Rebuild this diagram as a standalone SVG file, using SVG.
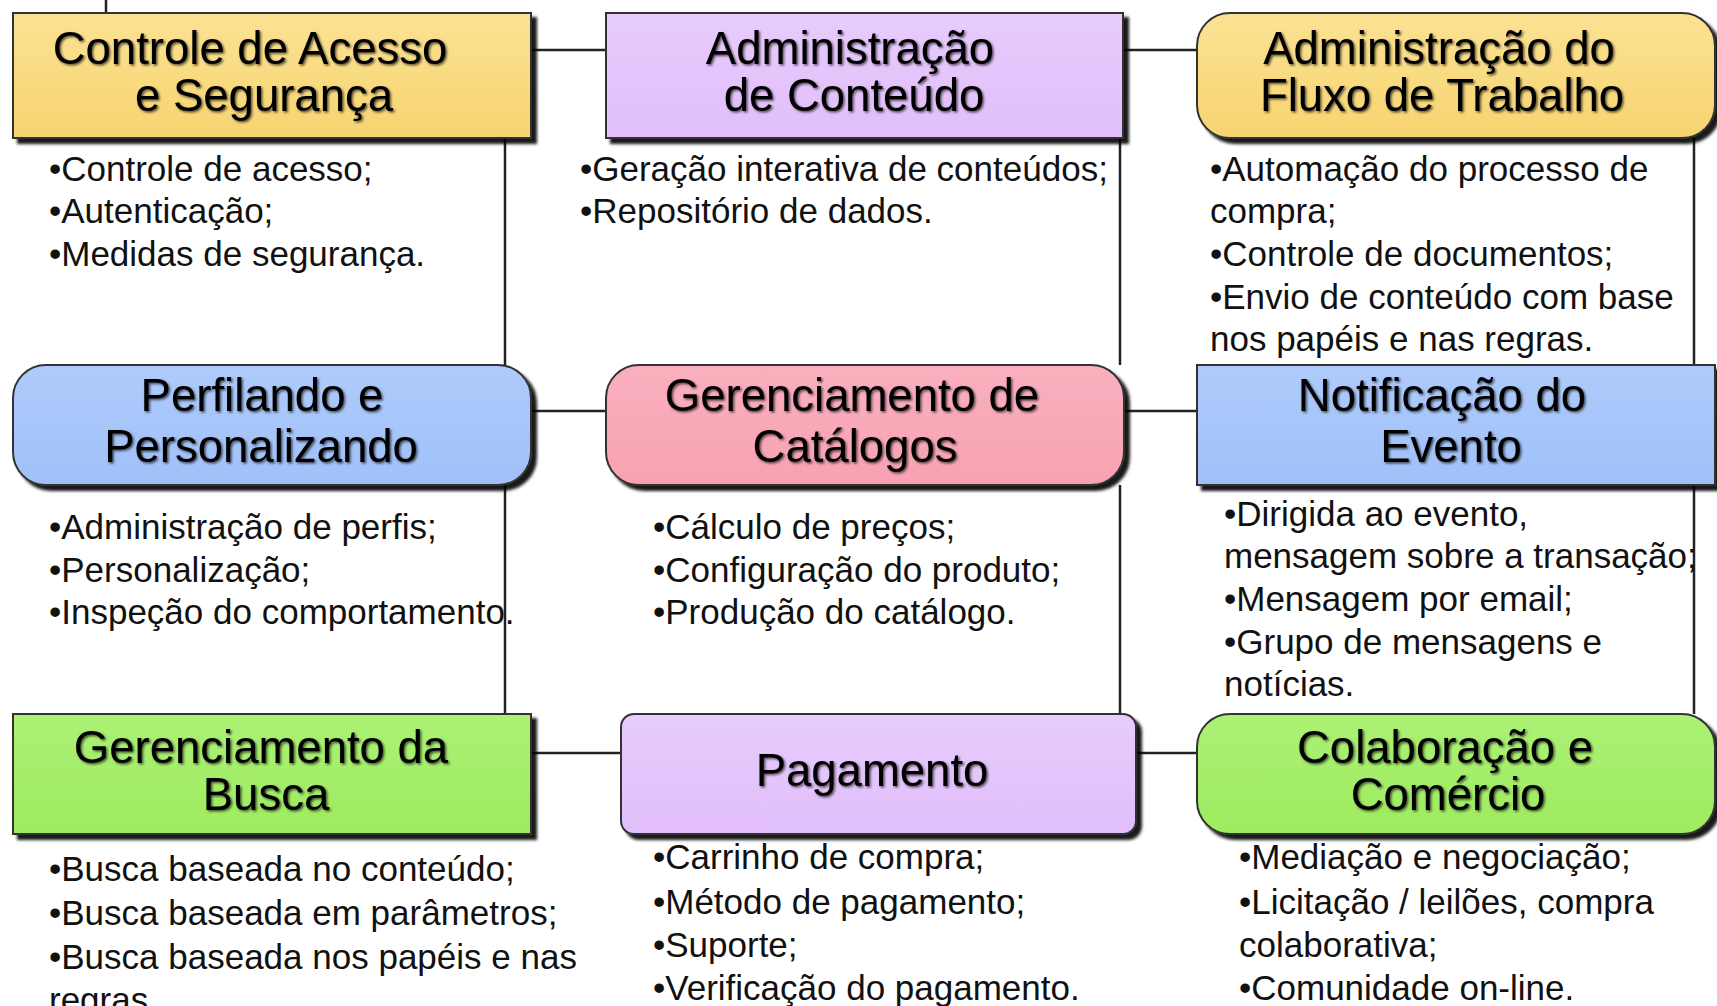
<svg xmlns="http://www.w3.org/2000/svg" width="1717" height="1006" viewBox="0 0 1717 1006">
<style>
.box{stroke:#333;stroke-width:2}
.t{font-family:"Liberation Sans",Arial,sans-serif;font-size:45.5px;fill:#000;text-anchor:middle;filter:url(#ts)}
.b{font-family:"Liberation Sans",Arial,sans-serif;font-size:35px;fill:#111}
.c{stroke:#222;stroke-width:2.5;fill:none}
</style>
<defs>
<linearGradient id="gy" x1="0" y1="0" x2="0" y2="1"><stop offset="0" stop-color="#FBE293"/><stop offset="1" stop-color="#F7D470"/></linearGradient>
<linearGradient id="gp" x1="0" y1="0" x2="0" y2="1"><stop offset="0" stop-color="#E8CCFD"/><stop offset="1" stop-color="#E1BEFA"/></linearGradient>
<linearGradient id="gb" x1="0" y1="0" x2="0" y2="1"><stop offset="0" stop-color="#AECBFB"/><stop offset="1" stop-color="#A0C0F8"/></linearGradient>
<linearGradient id="gk" x1="0" y1="0" x2="0" y2="1"><stop offset="0" stop-color="#FAB0BE"/><stop offset="1" stop-color="#F7A2B2"/></linearGradient>
<linearGradient id="gg" x1="0" y1="0" x2="0" y2="1"><stop offset="0" stop-color="#ACF175"/><stop offset="1" stop-color="#9EEB60"/></linearGradient>
<filter id="sh" x="-5%" y="-10%" width="115%" height="130%"><feDropShadow dx="5" dy="5" stdDeviation="1.5" flood-color="#000" flood-opacity="0.9"/></filter>
<filter id="ts" x="-5%" y="-20%" width="115%" height="150%"><feDropShadow dx="1.5" dy="1.5" stdDeviation="1" flood-color="#000" flood-opacity="0.65"/></filter>
</defs>

<g id="connectors">
<line class="c" x1="106" y1="0" x2="106" y2="13"/>
<line class="c" x1="531" y1="50" x2="606" y2="50"/>
<line class="c" x1="1123" y1="50" x2="1197" y2="50"/>
<line class="c" x1="531" y1="411" x2="606" y2="411"/>
<line class="c" x1="1124" y1="411" x2="1197" y2="411"/>
<line class="c" x1="531" y1="753" x2="621" y2="753"/>
<line class="c" x1="1136" y1="753" x2="1197" y2="753"/>
<line class="c" x1="505" y1="138" x2="505" y2="365"/>
<line class="c" x1="505" y1="485" x2="505" y2="714"/>
<line class="c" x1="1120" y1="138" x2="1120" y2="365"/>
<line class="c" x1="1120" y1="485" x2="1120" y2="714"/>
<line class="c" x1="1694" y1="138" x2="1694" y2="365"/>
<line class="c" x1="1694" y1="485" x2="1694" y2="714"/>
</g>

<g id="n1">
<rect class="box" x="13" y="13" width="518" height="125" fill="url(#gy)" filter="url(#sh)"/>
<text class="t" x="250" y="64">Controle de Acesso</text>
<text class="t" x="264" y="111">e Segurança</text>
<text class="b" x="49" y="181">•Controle de acesso;</text>
<text class="b" x="49" y="223">•Autenticação;</text>
<text class="b" x="49" y="266">•Medidas de segurança.</text>
</g>

<g id="n2">
<rect class="box" x="606" y="13" width="517" height="125" fill="url(#gp)" filter="url(#sh)"/>
<text class="t" x="850" y="64">Administração</text>
<text class="t" x="854" y="111">de Conteúdo</text>
<text class="b" x="580" y="181">•Geração interativa de conteúdos;</text>
<text class="b" x="580" y="223">•Repositório de dados.</text>
</g>

<g id="n3">
<rect class="box" x="1197" y="13" width="518" height="125" rx="33" fill="url(#gy)" filter="url(#sh)"/>
<text class="t" x="1439" y="64">Administração do</text>
<text class="t" x="1442" y="111">Fluxo de Trabalho</text>
<text class="b" x="1210" y="181">•Automação do processo de</text>
<text class="b" x="1210" y="223">compra;</text>
<text class="b" x="1210" y="266">•Controle de documentos;</text>
<text class="b" x="1210" y="309">•Envio de conteúdo com base</text>
<text class="b" x="1210" y="351">nos papéis e nas regras.</text>
</g>

<g id="n4">
<rect class="box" x="13" y="365" width="518" height="120" rx="33" fill="url(#gb)" filter="url(#sh)"/>
<text class="t" x="262" y="411">Perfilando e</text>
<text class="t" x="261" y="462">Personalizando</text>
<text class="b" x="49" y="539">•Administração de perfis;</text>
<text class="b" x="49" y="582">•Personalização;</text>
<text class="b" x="49" y="624">•Inspeção do comportamento.</text>
</g>

<g id="n5">
<rect class="box" x="606" y="365" width="518" height="120" rx="33" fill="url(#gk)" filter="url(#sh)"/>
<text class="t" x="852" y="411">Gerenciamento de</text>
<text class="t" x="855" y="462">Catálogos</text>
<text class="b" x="653" y="539">•Cálculo de preços;</text>
<text class="b" x="653" y="582">•Configuração do produto;</text>
<text class="b" x="653" y="624">•Produção do catálogo.</text>
</g>

<g id="n6">
<rect class="box" x="1197" y="365" width="518" height="120" fill="url(#gb)" filter="url(#sh)"/>
<text class="t" x="1442" y="411">Notificação do</text>
<text class="t" x="1451" y="462">Evento</text>
<text class="b" x="1224" y="526">•Dirigida ao evento,</text>
<text class="b" x="1224" y="568">mensagem sobre a transação;</text>
<text class="b" x="1224" y="611">•Mensagem por email;</text>
<text class="b" x="1224" y="654">•Grupo de mensagens e</text>
<text class="b" x="1224" y="696">notícias.</text>
</g>

<g id="n7">
<rect class="box" x="13" y="714" width="518" height="120" fill="url(#gg)" filter="url(#sh)"/>
<text class="t" x="261" y="763">Gerenciamento da</text>
<text class="t" x="266" y="810">Busca</text>
<text class="b" x="49" y="881">•Busca baseada no conteúdo;</text>
<text class="b" x="49" y="925">•Busca baseada em parâmetros;</text>
<text class="b" x="49" y="969">•Busca baseada nos papéis e nas</text>
<text class="b" x="49" y="1012">regras.</text>
</g>

<g id="n8">
<rect class="box" x="621" y="714" width="515" height="120" rx="13" fill="url(#gp)" filter="url(#sh)"/>
<text class="t" x="872" y="786">Pagamento</text>
<text class="b" x="653" y="869">•Carrinho de compra;</text>
<text class="b" x="653" y="914">•Método de pagamento;</text>
<text class="b" x="653" y="957">•Suporte;</text>
<text class="b" x="653" y="1000">•Verificação do pagamento.</text>
</g>

<g id="n9">
<rect class="box" x="1197" y="714" width="518" height="120" rx="33" fill="url(#gg)" filter="url(#sh)"/>
<text class="t" x="1445" y="763">Colaboração e</text>
<text class="t" x="1448" y="810">Comércio</text>
<text class="b" x="1239" y="869">•Mediação e negociação;</text>
<text class="b" x="1239" y="914">•Licitação / leilões, compra</text>
<text class="b" x="1239" y="957">colaborativa;</text>
<text class="b" x="1239" y="1000">•Comunidade on-line.</text>
</g>
</svg>
